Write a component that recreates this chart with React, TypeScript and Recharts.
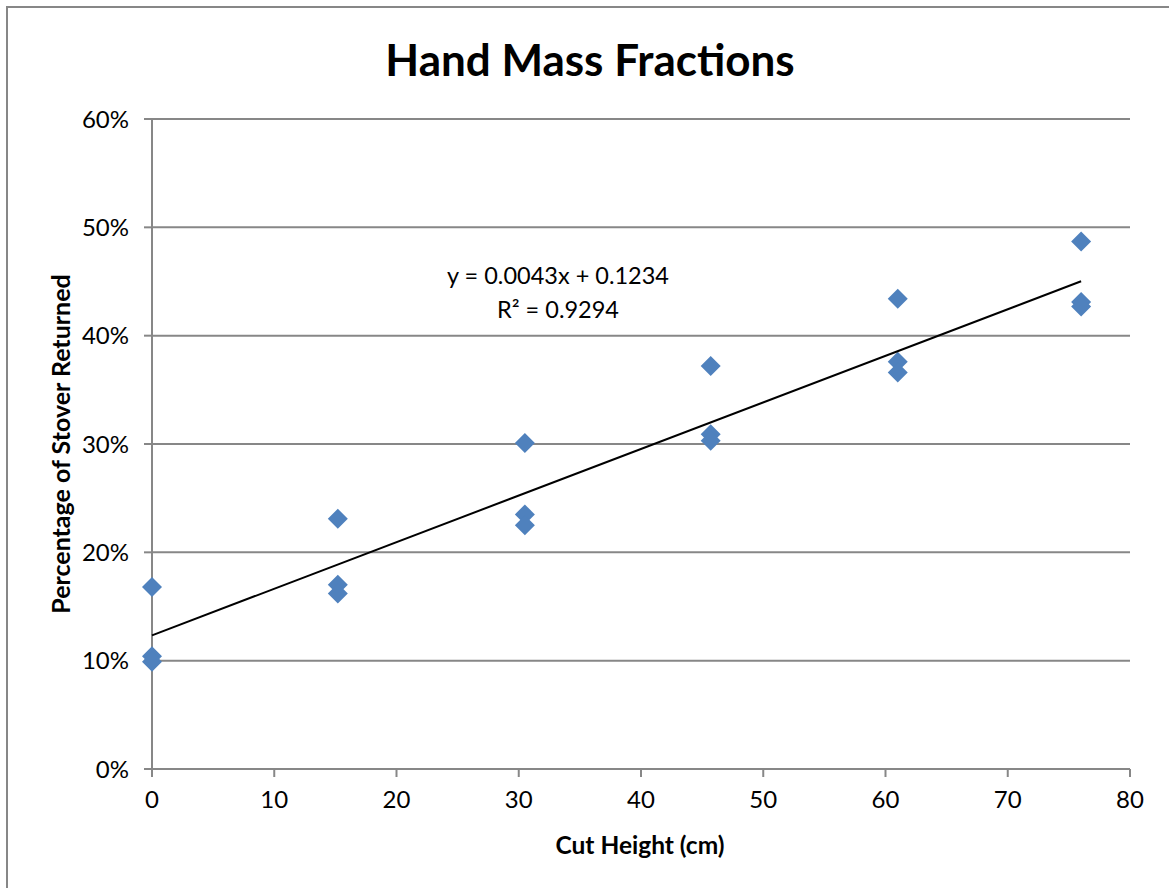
import React from 'react';
import { ScatterChart, Scatter, XAxis, YAxis, CartesianGrid } from 'recharts';

// cut heights (cm) and measured fractions, three reps each
const cutHeights = [0, 0, 0, 15.2, 15.2, 15.2, 30.5, 30.5, 30.5, 45.7, 45.7, 45.7, 61, 61, 61, 76, 76, 76];
const fractions = [0.168, 0.104, 0.099, 0.231, 0.170, 0.162, 0.301, 0.235, 0.225, 0.372, 0.309, 0.303, 0.434, 0.376, 0.366, 0.487, 0.431, 0.427];

// linear trendline endpoints from the fitted equation
const trendX = [0, 76];
const trendY = [0.1234, 0.4502];

const xTicks = [0, 10, 20, 30, 40, 50, 60, 70, 80];
const yTicks = [0, 0.1, 0.2, 0.3, 0.4, 0.5, 0.6];

const points = cutHeights.map((x, i) => ({ x, y: fractions[i] }));
const trend = trendX.map((x, i) => ({ x, y: trendY[i] }));

const font = 'Lato, "Open Sans", sans-serif';
const gray = '#878787';

const Diamond = (props: any) => {
  const { cx, cy } = props;
  const r = 10;
  return <polygon points={`${cx},${cy - r} ${cx + r},${cy} ${cx},${cy + r} ${cx - r},${cy}`} fill="#4F81BD" />;
};

export default function App() {
  return (
    <div style={{ position: 'absolute', left: 0, top: 0, width: 1169, height: 888, background: '#fff', overflow: 'hidden', fontFamily: font }}>
      <div style={{ position: 'absolute', left: 6, top: 6, width: 1180, height: 900, border: `2px solid ${gray}` }} />
      <ScatterChart width={1169} height={888} margin={{ top: 119, right: 39, left: 72, bottom: 89 }} style={{ position: 'absolute', left: 0, top: 0 }}>
        <CartesianGrid vertical={false} stroke={gray} strokeWidth={2} />
        <XAxis type="number" dataKey="x" domain={[0, 80]} ticks={xTicks} height={30}
          stroke={gray} strokeWidth={2} tickSize={8} tickMargin={14}
          tick={{ fill: '#000', fontSize: 24, fontFamily: font }} />
        <YAxis type="number" dataKey="y" domain={[0, 0.6]} ticks={yTicks} width={80}
          stroke={gray} strokeWidth={2} tickSize={8} tickMargin={15}
          tickFormatter={(v: number) => `${Math.round(v * 100)}%`}
          tick={{ fill: '#000', fontSize: 24, fontFamily: font }} />
        <Scatter data={points} shape={<Diamond />} isAnimationActive={false} />
        <Scatter data={trend} line={{ stroke: '#000', strokeWidth: 2 }} shape={() => <g />} isAnimationActive={false} />
      </ScatterChart>
      <div style={{ position: 'absolute', left: 0, width: 1180, top: 33, textAlign: 'center', fontSize: 44, fontWeight: 'bold' }}>
        Hand Mass Fractions
      </div>
      <div style={{ position: 'absolute', left: 358, width: 400, top: 258, textAlign: 'center', fontSize: 23.5, lineHeight: '34px' }}>
        y = 0.0043x + 0.1234<br />R² = 0.9294
      </div>
      <div style={{ position: 'absolute', left: 440, width: 400, top: 830, textAlign: 'center', fontSize: 24.5, fontWeight: 'bold' }}>
        Cut Height (cm)
      </div>
      <div style={{ position: 'absolute', left: 60, top: 444, width: 500, marginLeft: -250, marginTop: -16, textAlign: 'center', fontSize: 25, fontWeight: 'bold', lineHeight: '32px', transform: 'rotate(-90deg)' }}>
        Percentage of Stover Returned
      </div>
    </div>
  );
}
